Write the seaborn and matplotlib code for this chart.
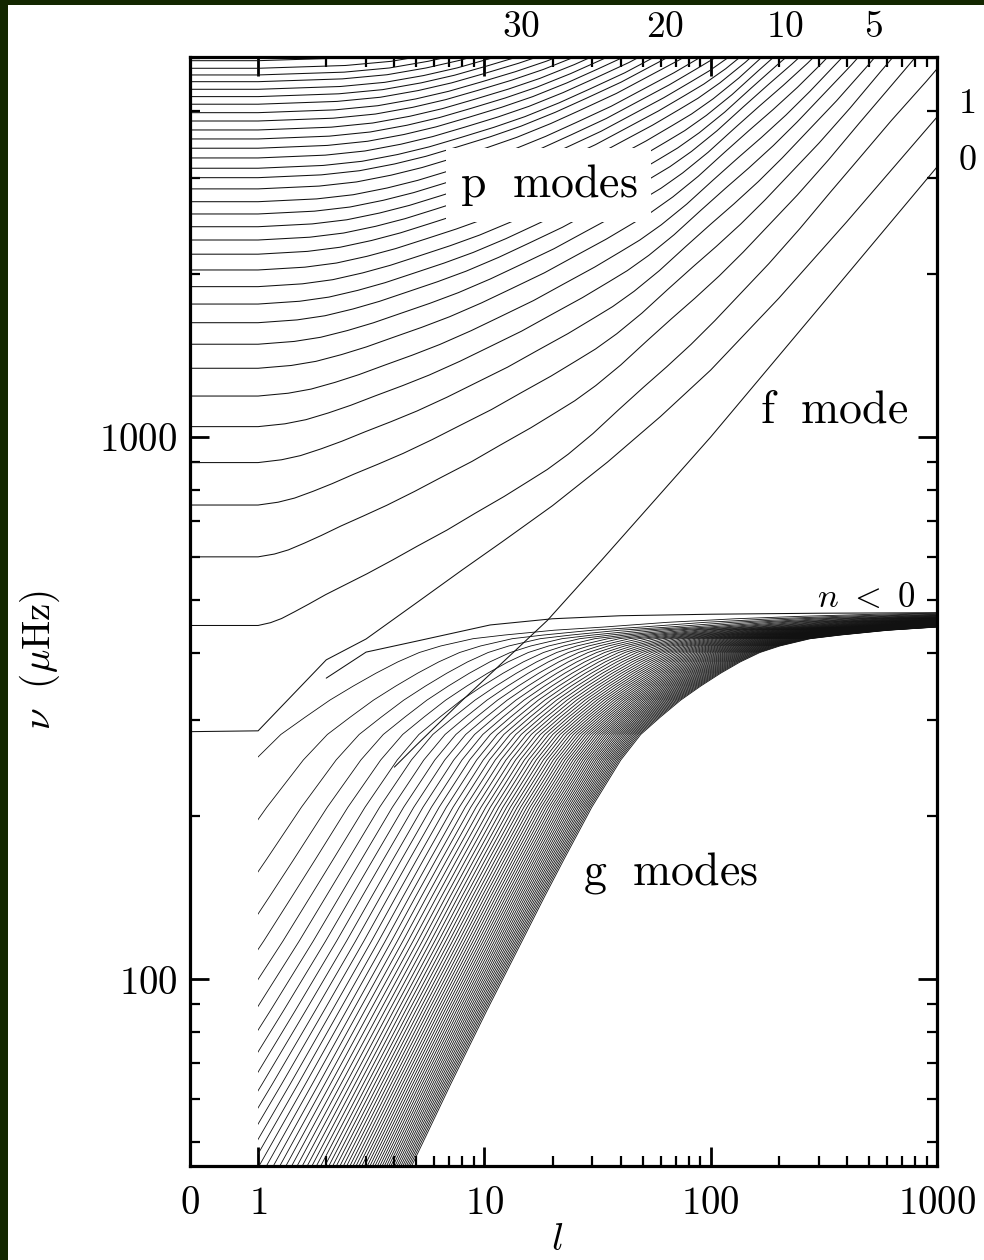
import numpy as np
import pandas as pd
import matplotlib
matplotlib.use("Agg")
import matplotlib.pyplot as plt
from matplotlib.patches import Rectangle
from matplotlib.ticker import FixedLocator, NullFormatter
import seaborn as sns

# ---------------------------------------------------------------- p modes
# frequencies of the radial (l = 0) p modes from p2 upward [muHz]
p_radial = [449, 601, 749, 897, 1045, 1190, 1339, 1483, 1625, 1759, 1894,
            2033, 2174, 2309, 2443, 2579, 2717, 2869, 3009, 3132, 3272, 3410,
            3547, 3685, 3828, 3966, 4111, 4246, 4380, 4524, 4655, 4789, 4946]
# common ridge shape: nu / nu(l=0) against (l - 1) / nu(l=0)
p_shape_x = [0, 0.0003, 0.0006, 0.001, 0.0015, 0.0022, 0.0032, 0.0045, 0.0065,
             0.009, 0.013, 0.018, 0.025, 0.033, 0.04, 0.05, 0.065, 0.085, 0.11,
             0.14, 0.18, 0.23, 0.30, 0.40, 0.55, 0.75, 1.0, 1.4, 2.0, 2.8, 3.6]
p_shape_ratio = [1.0, 1.012, 1.03, 1.06, 1.095, 1.14, 1.19, 1.245, 1.32,
                 1.40, 1.50, 1.61, 1.73, 1.85, 1.94, 2.07, 2.26, 2.50, 2.75,
                 3.00, 3.30, 3.65, 4.10, 4.65, 5.40, 6.30, 7.25, 8.55, 10.1, 11.9, 13.5]

# p1 ridge
p1_degree = [0, 1, 2, 3, 5, 8, 12, 20, 35, 60, 100, 200, 400, 1000]
p1_freq = [286, 287, 388, 424, 494, 569, 641, 747, 899, 1091, 1329, 1803, 2497, 3893]

# f mode
f_degree = [4, 5, 8, 19, 33, 100, 300, 1000]
f_freq = [246, 270, 327, 459, 593, 1000, 1727, 3149]

# low-degree branch that starts at l = 2 and runs along the buoyancy limit
fg_degree = [2, 3, 5, 10.6, 20, 40, 100, 300, 1000]
fg_freq = [359, 401, 420, 450, 462, 468, 471, 473, 474]

# ---------------------------------------------------------------- g modes
g_orders = np.arange(1, 63)
g_phase = 1.15
# common ridge shape: nu against L / (n + phase), L = sqrt(l (l + 1))
g_shape_y = [0.01, 0.03, 0.06, 0.0827, 0.12, 0.17, 0.24, 0.30, 0.3623, 0.48,
             0.6423, 0.785, 0.9577, 1.175, 1.4394, 1.76, 2.146, 2.62, 3.208,
             4.37, 5.949, 9.7, 15.84, 30, 60, 120, 250, 600]
g_shape_freq = [5.44, 16.3, 32.6, 45, 64, 87.5, 117.5, 142, 165.8, 207.5,
                253.6, 282.6, 304.4, 327, 347.2, 366.6, 384.6, 400.3, 411.6,
                424.5, 431.2, 440.1, 446, 455, 462, 467, 471, 474]

# axis tick values
x_major = [0.5, 1, 10, 100, 1000]
x_major_labels = ["0", "1", "10", "100", "1000"]
y_major = [100, 1000]
y_major_labels = ["100", "1000"]
top_labels = ["30", "20", "10", "5"]
right_labels = ["1", "0"]


def plot_degree(deg):
    deg = np.asarray(deg, dtype=float)
    return np.where(deg == 0, 0.5, deg)


frames = []
for k, nu0 in enumerate(p_radial):
    deg = np.concatenate([[0.0], 1.0 + np.asarray(p_shape_x) * nu0])
    nu = np.concatenate([[nu0], nu0 * np.asarray(p_shape_ratio)])
    frames.append(pd.DataFrame({"l": plot_degree(deg), "nu": nu, "mode": f"p{k + 2}"}))
frames.append(pd.DataFrame({"l": plot_degree(p1_degree), "nu": p1_freq, "mode": "p1"}))
frames.append(pd.DataFrame({"l": f_degree, "nu": f_freq, "mode": "f"}))
frames.append(pd.DataFrame({"l": fg_degree, "nu": fg_freq, "mode": "fg"}))
pf_df = pd.concat(frames, ignore_index=True)

g_frames = []
for n in g_orders:
    L = np.asarray(g_shape_y) * (n + g_phase)
    deg = (np.sqrt(1 + 4 * L ** 2) - 1) / 2
    g_frames.append(pd.DataFrame({"l": deg, "nu": g_shape_freq, "mode": f"g{n}"}))
g_df = pd.concat(g_frames, ignore_index=True)

sns.set_theme(style="ticks")
plt.rcParams["mathtext.fontset"] = "cm"
plt.rcParams["font.family"] = ["DejaVu Serif"]

W, H = 984, 1260
fig = plt.figure(figsize=(W / 100, H / 100), dpi=100, facecolor="#132700")
fig.add_artist(Rectangle((8 / W, 0), 1, 1 - 5 / H, transform=fig.transFigure,
                         facecolor="white", edgecolor="none", zorder=-10))
ax = fig.add_axes([190 / W, 1 - 1166 / H, (937 - 190) / W, (1166 - 57) / H])
ax.set_facecolor("white")
ax.set_xscale("log")
ax.set_yscale("log")
x_lo, x_hi, y_lo, y_hi = 0.5, 1000, 45.19, 5024
ax.set_xlim(x_lo, x_hi)
ax.set_ylim(y_lo, y_hi)

line_kw = dict(units="mode", estimator=None, sort=False, color="#111111",
               legend=False, ax=ax)

# g modes exist from l = 1 onwards
n_before = len(ax.lines)
sns.lineplot(data=g_df, x="l", y="nu", linewidth=0.6, **line_kw)
g_clip = Rectangle((1, y_lo), x_hi - 1, y_hi - y_lo, transform=ax.transData,
                   facecolor="none", edgecolor="none")
for ln in list(ax.lines)[n_before:]:
    ln.set_clip_path(g_clip)

sns.lineplot(data=pf_df, x="l", y="nu", linewidth=0.75, **line_kw)

ax.set_xlim(x_lo, x_hi)
ax.set_ylim(y_lo, y_hi)
ax.set_xlabel("")
ax.set_ylabel("")

# ticks
ax.xaxis.set_major_locator(FixedLocator(x_major))
ax.set_xticklabels([f"${t}$" for t in x_major_labels])
ax.xaxis.set_minor_locator(FixedLocator([m * 10 ** e for e in range(3) for m in range(2, 10)]))
ax.xaxis.set_minor_formatter(NullFormatter())
ax.yaxis.set_major_locator(FixedLocator(y_major))
ax.set_yticklabels([f"${t}$" for t in y_major_labels])
ax.yaxis.set_minor_locator(FixedLocator([50, 60, 70, 80, 90] +
                                        [m * 100 for m in range(2, 10)] +
                                        [2000, 3000, 4000, 5000]))
ax.yaxis.set_minor_formatter(NullFormatter())
ax.tick_params(which="both", direction="in", top=True, right=True, color="black",
               labelcolor="black")
ax.tick_params(which="major", length=14, width=2.0, labelsize=28)
ax.tick_params(which="minor", length=7, width=1.6)
ax.tick_params(axis="x", which="major", pad=14)
ax.tick_params(axis="y", which="major", pad=9)
for sp in ax.spines.values():
    sp.set_linewidth(2.3)
    sp.set_color("black")

# axis titles
ax.text(0.491, -0.066, r"$l$", transform=ax.transAxes, fontsize=28,
        ha="center", va="center", color="black")
ax.text(-0.2008, 0.456, r"$\nu\ \ (\mu\mathrm{Hz})$", transform=ax.transAxes,
        fontsize=28, rotation=90, ha="center", va="center", color="black")

# region labels
ax.text(19.2, 2918, r"$\mathrm{p\ \ modes}$", fontsize=33, ha="center", va="center",
        color="black", zorder=5,
        bbox=dict(boxstyle="square,pad=0.3", facecolor="white", edgecolor="none"))
ax.text(350, 1121, r"$\mathrm{f\ \ mode}$", fontsize=33, ha="center", va="center",
        color="black", zorder=5)
ax.text(66.5, 157, r"$\mathrm{g\ \ modes}$", fontsize=33, ha="center", va="center",
        color="black", zorder=5)
ax.text(485, 507, r"$n\ <\ 0$", fontsize=25, ha="center", va="center",
        color="black", zorder=5)

for txt, px in zip(top_labels, [521, 665, 785, 873]):
    fig.text(px / W, 1 - 27 / H, f"${txt}$", fontsize=27, ha="center", va="center",
             color="black")
for txt, py in zip(right_labels, [103, 160]):
    fig.text(967 / W, 1 - py / H, f"${txt}$", fontsize=26, ha="center", va="center",
             color="black")

fig.savefig("out.png", dpi=100, facecolor=fig.get_facecolor())
